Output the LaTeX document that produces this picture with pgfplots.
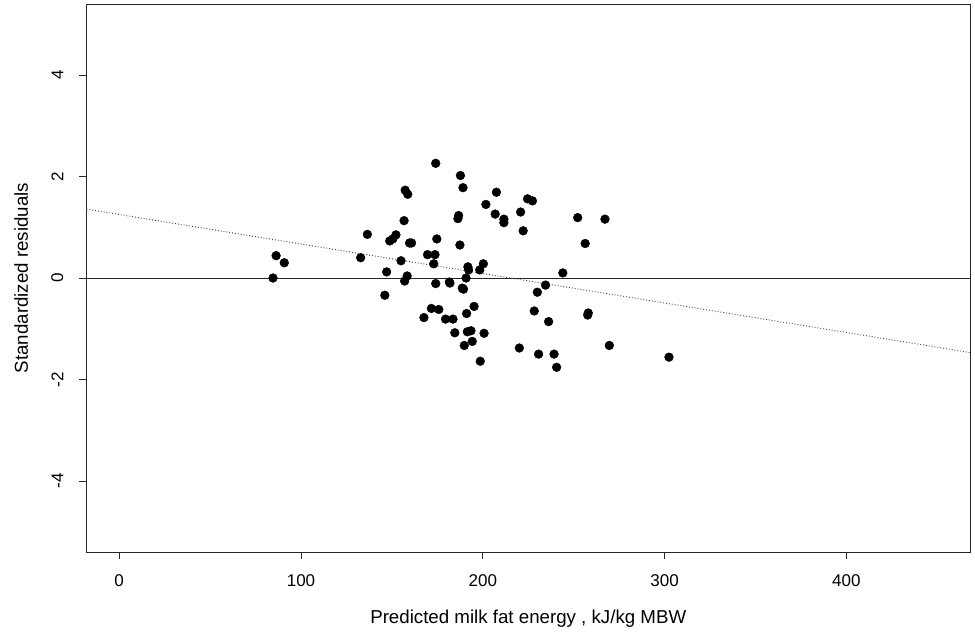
\documentclass[border=0pt]{standalone}
\usepackage{pgfplots}
\pgfplotsset{compat=1.18}
\usepackage{fontspec}
\setmainfont{Liberation Sans}
\begin{document}
\begin{tikzpicture}
\begin{axis}[
  scale only axis,
  width=883.5bp, height=548bp,
  at={(0,0)}, anchor=south west,
  xmin=-18, xmax=468, ymin=-5.4, ymax=5.4,
  axis line style={black!85, line width=0.9bp},
  xtick={0,100,200,300,400},
  ytick={-4,-2,0,2,4},
  xtick pos=bottom, ytick pos=left,
  tick align=outside,
  major tick length=7bp,
  tick style={black!85, line width=0.9bp},
  /pgf/number format/assume math mode=true,
  ticklabel style={font=\fontsize{17bp}{20bp}\selectfont, inner sep=0pt},
  xticklabel style={anchor=north},
  yticklabel style={rotate=90, anchor=south},
  xticklabel shift=15bp,
  yticklabel shift=16bp,
  label style={font=\fontsize{18.7bp}{22bp}\selectfont, inner sep=0pt},
  xlabel={Predicted milk fat energy , kJ/kg MBW},
  ylabel={Standardized residuals},
  xlabel style={at={(axis description cs:0.5,-0.1301)}, anchor=base},
  ylabel style={at={(axis description cs:-0.0663,0.5)}, anchor=base, rotate=0},
  clip=true,
]
% zero line
\addplot[black!85, line width=0.9bp, forget plot] coordinates {(-18,0) (468,0)};
% trend line (dotted)
\addplot[black!75, line width=0.9bp, dotted, forget plot] coordinates {(-18,1.356) (468,-1.469)};
% points
\addplot[only marks, mark=*, mark size=4.4bp, mark options={fill=black, draw=black}] coordinates {
(84.6,0.00) (86.3,0.44) (90.8,0.30) (132.8,0.40) (136.5,0.86)
(147.1,0.12) (146.1,-0.34) (148.8,0.73) (150.5,0.77) (152.2,0.85)
(155.0,0.34) (156.7,1.13) (157.3,1.73) (158.7,1.65) (157.0,-0.06)
(158.4,0.04) (159.7,0.69) (160.8,0.69) (167.6,-0.78) (169.6,0.46)
(171.7,-0.60) (173.0,0.28) (173.7,0.46) (174.1,2.26) (174.1,-0.11)
(174.7,0.77) (175.8,-0.62) (179.5,-0.81) (181.6,-0.08) (181.9,-0.10)
(183.6,-0.81) (184.6,-1.08) (186.3,1.17) (186.7,1.23) (187.4,0.65)
(187.7,2.02) (188.7,-0.20) (189.4,-0.22) (189.1,1.78) (189.8,-1.33)
(190.8,0.00) (191.1,-0.70) (191.5,-1.06) (191.8,0.22) (192.2,0.16)
(193.5,-1.04) (194.2,-1.25) (195.2,-0.56) (198.3,0.16) (198.6,-1.64)
(200.3,0.28) (200.7,-1.09) (201.7,1.45) (206.8,1.26) (207.5,1.69)
(211.6,1.16) (211.6,1.09) (220.1,-1.38) (220.8,1.30) (222.2,0.93)
(224.6,1.56) (227.3,1.52) (228.3,-0.65) (230.0,-0.28) (230.7,-1.50)
(234.5,-0.14) (236.2,-0.86) (239.2,-1.50) (240.6,-1.76) (244.0,0.10)
(252.2,1.19) (256.3,0.68) (257.7,-0.73) (258.0,-0.69) (267.2,1.16)
(269.6,-1.33) (302.4,-1.56)
};
\end{axis}
\path (-86.5bp,-82bp) rectangle (888.5bp,552bp);
\end{tikzpicture}
\end{document}
